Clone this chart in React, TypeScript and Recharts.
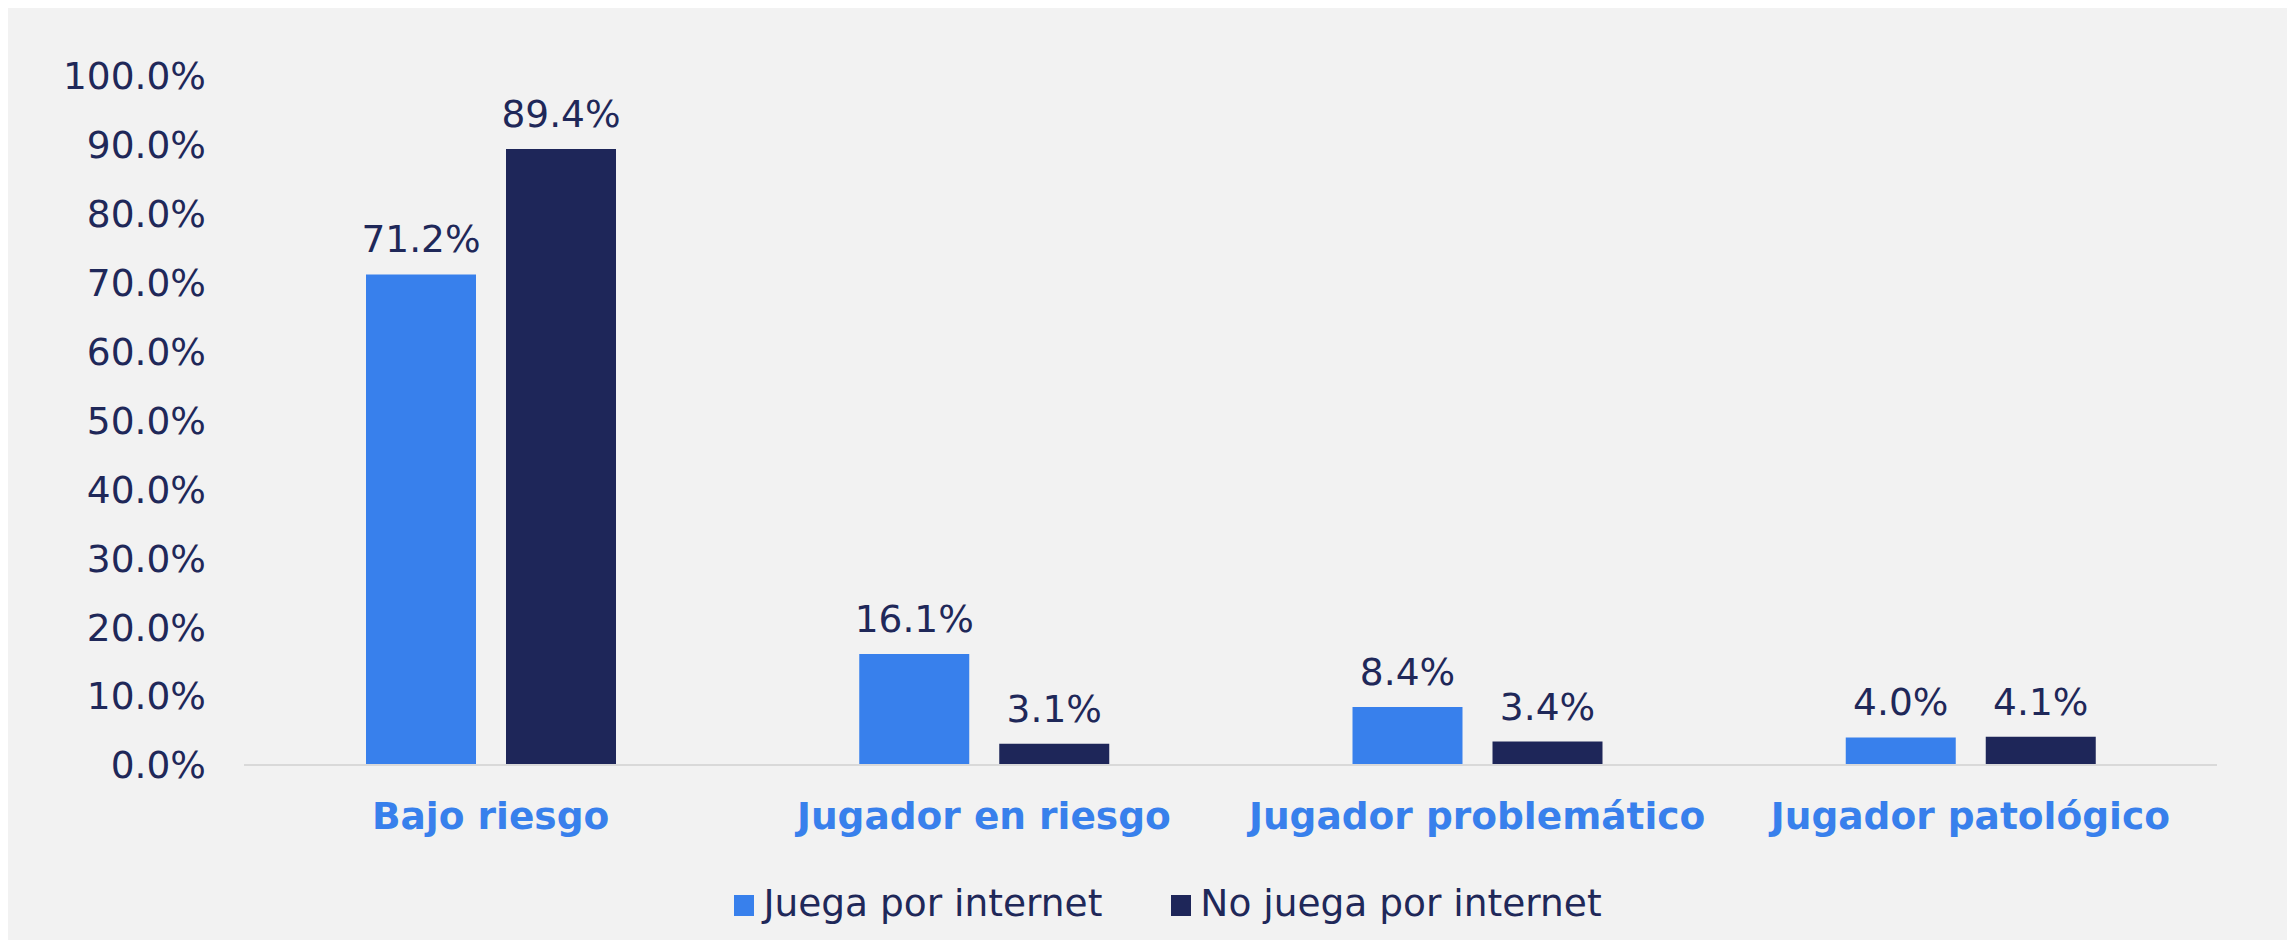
import React from 'react';
import { BarChart, Bar, XAxis, YAxis, Legend, LabelList } from 'recharts';

const categories = ['Bajo riesgo', 'Jugador en riesgo', 'Jugador problemático', 'Jugador patológico'];
const juegaInternet = [71.2, 16.1, 8.4, 4.0];
const noJuegaInternet = [89.4, 3.1, 3.4, 4.1];
const seriesNames = ['Juega por internet', 'No juega por internet'];
const yTicks = [0, 10, 20, 30, 40, 50, 60, 70, 80, 90, 100];

const data = categories.map((c, i) => ({
  name: c,
  juega: juegaInternet[i],
  noJuega: noJuegaInternet[i],
}));

const FONT = '"DejaVu Sans", Verdana, sans-serif';
const NAVY = '#1e2659';
const BLUE = '#3880ec';
const TEXT = '#1f2859';
const FS = 37.5;

const pct = (v: any) => `${Number(v).toFixed(1)}%`;

const LegendContent = (props: any) => {
  const { payload = [] } = props;
  return (
    <div
      style={{
        textAlign: 'center',
        height: 43,
        lineHeight: '43px',
        fontFamily: FONT,
        fontSize: FS,
        color: TEXT,
        whiteSpace: 'nowrap',
      }}
    >
      {payload.map((e: any, i: number) => (
        <span key={i} style={{ marginLeft: i ? 69 : 0 }}>
          <span
            style={{
              display: 'inline-block',
              width: 20,
              height: 21,
              background: e.color,
              marginRight: 9,
              verticalAlign: 'baseline',
            }}
          />
          {e.value}
        </span>
      ))}
    </div>
  );
};

export default function App() {
  return (
    <div style={{ width: 2279, height: 932, background: '#f2f2f2' }}>
      <BarChart
        width={2279}
        height={932}
        data={data}
        margin={{ top: 68, right: 70, left: 0, bottom: 15 }}
        barSize={110}
        barGap={30}
      >
        <XAxis
          dataKey="name"
          height={117}
          tickSize={0}
          tickMargin={37}
          axisLine={{ stroke: '#d9d9d9', strokeWidth: 2 }}
          tickLine={false}
          interval={0}
          tick={{ fill: BLUE, fontSize: FS, fontWeight: 'bold', fontFamily: FONT }}
        />
        <YAxis
          width={236}
          domain={[0, 100]}
          ticks={yTicks}
          tickFormatter={pct}
          axisLine={false}
          tickLine={false}
          tickSize={0}
          tickMargin={38}
          tick={{ fill: TEXT, fontSize: FS, fontFamily: FONT }}
        />
        <Legend
          verticalAlign="bottom"
          content={<LegendContent />}
          wrapperStyle={{ left: 41, width: 2238 }}
        />
        <Bar dataKey="juega" name={seriesNames[0]} fill={BLUE} isAnimationActive={false}>
          <LabelList
            dataKey="juega"
            position="top"
            offset={22}
            formatter={pct}
            style={{ fill: TEXT, fontSize: FS, fontFamily: FONT }}
          />
        </Bar>
        <Bar dataKey="noJuega" name={seriesNames[1]} fill={NAVY} isAnimationActive={false}>
          <LabelList
            dataKey="noJuega"
            position="top"
            offset={22}
            formatter={pct}
            style={{ fill: TEXT, fontSize: FS, fontFamily: FONT }}
          />
        </Bar>
      </BarChart>
    </div>
  );
}
